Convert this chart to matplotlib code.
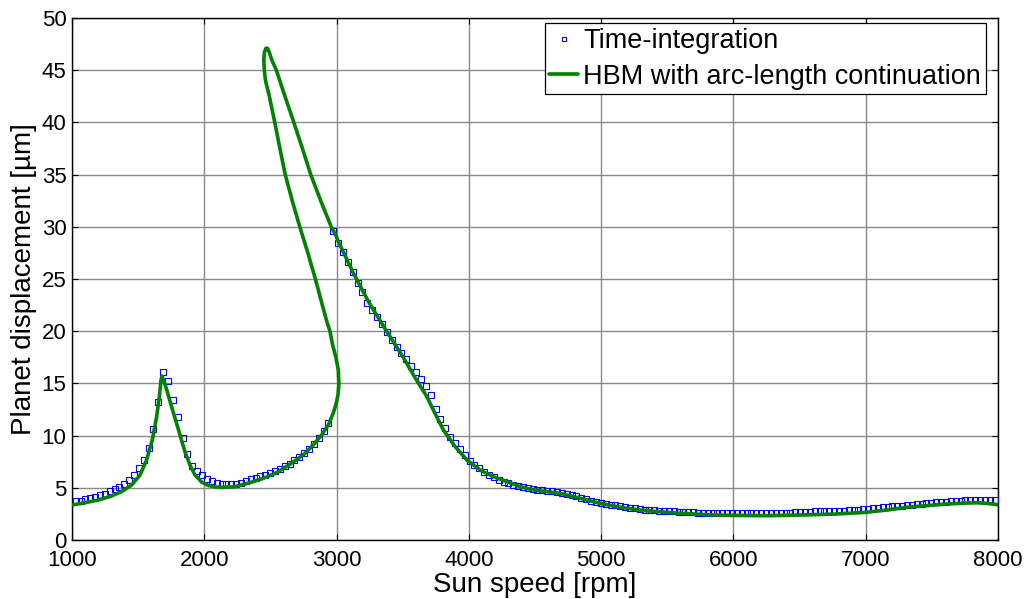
import matplotlib
matplotlib.use("Agg")
import matplotlib.pyplot as plt

# =============================================================================
# Time-integration results (blue squares)
# =============================================================================
ti_speed = [1028, 1065, 1102, 1138, 1175, 1212, 1249, 1285, 1322, 1359,
            1396, 1432, 1469, 1506, 1543, 1579, 1616, 1653, 1690, 1726,
            1763, 1800, 1837, 1873, 1910, 1947, 1984, 2020, 2057, 2094,
            2131, 2167, 2204, 2241, 2278, 2314, 2351, 2388, 2425, 2461,
            2498, 2535, 2572, 2608, 2645, 2682, 2719, 2755, 2792, 2829,
            2866, 2902, 2939, 2976, 3013, 3049, 3086, 3123, 3160, 3196,
            3233, 3270, 3307, 3343, 3380, 3417, 3454, 3490, 3527, 3564,
            3601, 3637, 3674, 3711, 3748, 3784, 3821, 3858, 3895, 3931,
            3968, 4005, 4042, 4078, 4115, 4152, 4189, 4225, 4262, 4299,
            4336, 4372, 4409, 4446, 4483, 4519, 4556, 4593, 4630, 4666,
            4703, 4740, 4777, 4813, 4850, 4887, 4924, 4960, 4997, 5034,
            5071, 5107, 5144, 5181, 5218, 5254, 5291, 5328, 5365, 5401,
            5438, 5475, 5512, 5548, 5585, 5622, 5659, 5695, 5732, 5769,
            5806, 5842, 5879, 5916, 5953, 5989, 6026, 6063, 6100, 6136,
            6173, 6210, 6247, 6283, 6320, 6357, 6394, 6430, 6467, 6504,
            6541, 6577, 6614, 6651, 6688, 6724, 6761, 6798, 6835, 6871,
            6908, 6945, 6982, 7018, 7055, 7092, 7129, 7165, 7202, 7239,
            7276, 7312, 7349, 7386, 7423, 7459, 7496, 7533, 7570, 7606,
            7643, 7680, 7717, 7753, 7790, 7827, 7864, 7900, 7937, 7974]
ti_disp = [3.72, 3.78, 3.93, 4.05, 4.16, 4.29, 4.44, 4.65, 4.86, 5.10,
           5.38, 5.72, 6.20, 6.87, 7.70, 8.85, 10.6, 13.2, 16.1, 15.2,
           13.4, 11.8, 9.80, 8.20, 7.10, 6.60, 6.22, 5.88, 5.62, 5.45,
           5.38, 5.37, 5.37, 5.40, 5.45, 5.62, 5.80, 5.95, 6.10, 6.27,
           6.43, 6.60, 6.83, 7.05, 7.32, 7.65, 7.98, 8.35, 8.75, 9.20,
           9.75, 10.4, 11.25, 29.6, 28.4, 27.6, 26.6, 25.7, 24.6, 23.75,
           22.7, 22.0, 21.35, 20.7, 19.95, 19.2, 18.5, 17.9, 17.3, 16.7,
           16.05, 15.4, 14.75, 13.9, 12.5, 11.55, 10.7, 9.90, 9.30, 8.70,
           8.10, 7.55, 7.20, 6.85, 6.55, 6.25, 6.00, 5.75, 5.55, 5.42,
           5.30, 5.16, 5.03, 4.96, 4.90, 4.83, 4.77, 4.71, 4.65, 4.58,
           4.52, 4.45, 4.35, 4.20, 4.04, 3.89, 3.77, 3.67, 3.58, 3.48,
           3.39, 3.32, 3.24, 3.17, 3.10, 3.04, 2.98, 2.92, 2.88, 2.85,
           2.82, 2.79, 2.76, 2.73, 2.70, 2.67, 2.66, 2.64, 2.63, 2.62,
           2.61, 2.60, 2.60, 2.60, 2.59, 2.59, 2.58, 2.58, 2.58, 2.58,
           2.58, 2.58, 2.59, 2.59, 2.60, 2.61, 2.62, 2.63, 2.65, 2.67,
           2.69, 2.71, 2.73, 2.75, 2.77, 2.79, 2.80, 2.81, 2.82, 2.85,
           2.88, 2.91, 2.94, 2.98, 3.03, 3.08, 3.12, 3.17, 3.21, 3.26,
           3.30, 3.35, 3.40, 3.45, 3.49, 3.53, 3.57, 3.61, 3.65, 3.68,
           3.71, 3.74, 3.77, 3.80, 3.83, 3.86, 3.87, 3.85, 3.82, 3.80]

# =============================================================================
# HBM with arc-length continuation (green path, incl. the fold)
# =============================================================================
hbm_speed = [1000, 1098, 1199, 1300, 1375, 1451, 1514, 1564, 1607, 1640,
             1660, 1673, 1680, 1693, 1716, 1753, 1791, 1824, 1854, 1892,
             1930, 1980, 2031, 2081, 2143, 2200, 2244, 2345, 2446, 2547,
             2647, 2748, 2824, 2887, 2938, 2975, 3000, 3012, 3018, 3013,
             2995, 2970, 2950, 2925, 2882, 2840, 2783, 2722, 2665, 2612,
             2572, 2533, 2492, 2463, 2454, 2450, 2455, 2466, 2478, 2492,
             2510, 2545, 2610, 2677, 2742, 2805, 2880, 2960, 2990, 3013,
             3051, 3126, 3200, 3252, 3378, 3504, 3605, 3680, 3719, 3769,
             3808, 3897, 3986, 4086, 4187, 4287, 4388, 4488, 4589, 4690,
             4791, 4892, 4992, 5093, 5194, 5295, 5396, 5497, 5623, 5749,
             5875, 6000, 6250, 6500, 6760, 7000, 7160, 7310, 7460, 7610,
             7760, 7840, 7915, 8000]
hbm_disp = [3.35, 3.57, 3.83, 4.22, 4.63, 5.27, 6.20, 7.66, 9.58, 11.8,
            13.7, 15.3, 15.7, 15.3, 14.4, 12.77, 11.17, 9.74, 8.46, 7.18,
            6.22, 5.55, 5.22, 5.08, 5.04, 5.08, 5.15, 5.49, 5.90, 6.45,
            7.25, 8.14, 9.10, 10.06, 11.02, 12.15, 13.2, 14.0, 15.0, 16.3,
            17.5, 18.7, 20.0, 21.0, 23.0, 25.0, 27.5, 30.0, 32.5, 35.0,
            37.5, 40.0, 42.5, 44.0, 45.0, 46.0, 46.7, 47.1, 47.1, 46.7,
            46.0, 45.0, 42.5, 40.0, 37.5, 35.0, 32.5, 30.0, 29.3, 28.6,
            27.6, 25.6, 23.8, 22.6, 20.0, 17.5, 15.3, 13.8, 12.78, 11.5,
            10.53, 8.94, 7.66, 6.70, 6.06, 5.59, 5.11, 4.79, 4.63, 4.47,
            4.15, 3.83, 3.51, 3.26, 3.04, 2.87, 2.75, 2.65, 2.55, 2.46,
            2.39, 2.36, 2.33, 2.39, 2.48, 2.65, 2.87, 3.13, 3.29, 3.45,
            3.54, 3.57, 3.51, 3.38]

x_ticks = [1000, 2000, 3000, 4000, 5000, 6000, 7000, 8000]
y_ticks = [0, 5, 10, 15, 20, 25, 30, 35, 40, 45, 50]

# =============================================================================
# Plot
# =============================================================================
plt.rcParams['font.family'] = ['Liberation Sans', 'DejaVu Sans']

fig = plt.figure(figsize=(10.31, 5.99), dpi=100)
ax = fig.add_axes([0.0698, 0.0985, 0.8982, 0.8715])

ax.plot(ti_speed, ti_disp, linestyle='none', marker='s', markersize=4.2,
        markerfacecolor='none', markeredgecolor='#0000ff', markeredgewidth=0.8,
        label='Time-integration', zorder=3)
ax.plot(hbm_speed, hbm_disp, color='#008000', linewidth=2.6,
        solid_joinstyle='round', solid_capstyle='round',
        label='HBM with arc-length continuation', zorder=4)

ax.set_xlim(1000, 8000)
ax.set_ylim(0, 50)
ax.set_xticks(x_ticks)
ax.set_yticks(y_ticks)
ax.grid(True, color='#8a8a8a', linewidth=1.0)
ax.set_axisbelow(True)
ax.tick_params(direction='in', length=4, width=0.8, top=True, right=True,
               labelsize=16, pad=4)
ax.tick_params(axis='x', pad=7)
for sp in ax.spines.values():
    sp.set_linewidth(1.0)
    sp.set_color('black')

ax.set_xlabel('Sun speed [rpm]', fontsize=20)
ax.set_ylabel('Planet displacement [µm]', fontsize=20)
ax.xaxis.set_label_coords(0.5, -0.062)
ax.yaxis.set_label_coords(-0.0377, 0.5)

leg = ax.legend(loc='upper right', bbox_to_anchor=(0.987, 0.990),
                borderaxespad=0, fontsize=19.5, fancybox=False, framealpha=1,
                edgecolor='black', handlelength=1.05, handletextpad=0.2,
                borderpad=0.18, labelspacing=0.35, markerscale=0.7)
leg.get_frame().set_linewidth(0.9)

fig.savefig('out.png', dpi=100)
plt.close()
